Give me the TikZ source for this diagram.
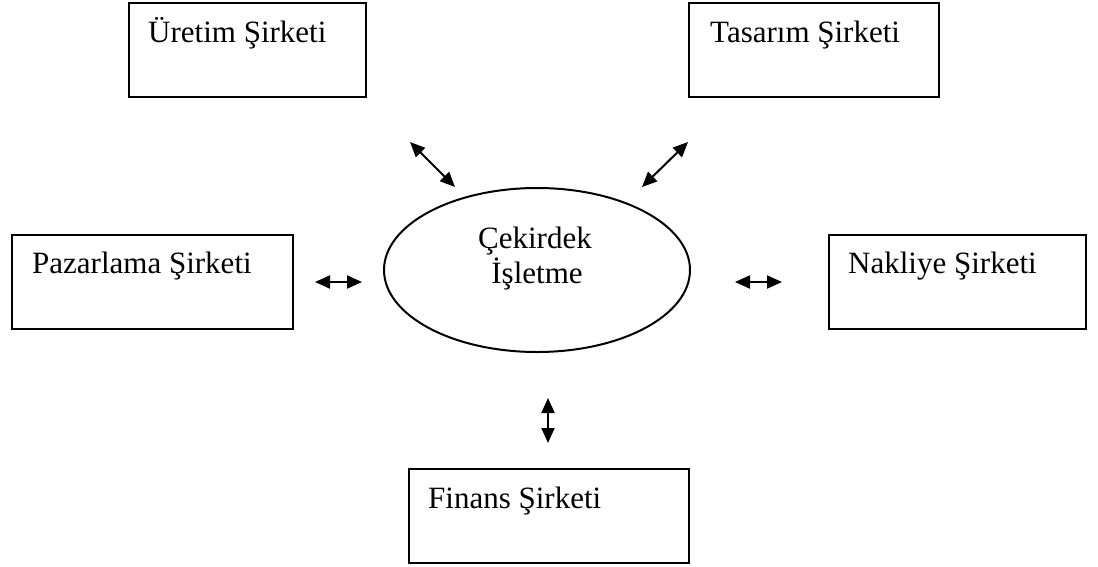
\documentclass[tikz,border=0pt]{standalone}
\usepackage{fontspec}
\setmainfont{Liberation Serif}
\usetikzlibrary{shapes.geometric,arrows.meta}
\begin{document}
\begin{tikzpicture}[x=1pt,y=-1pt,
  box/.style={draw,line width=2pt,inner sep=0pt,anchor=north west},
  lbl/.style={inner sep=0pt,anchor=base west,font=\fontsize{31}{35}\selectfont},
  clbl/.style={inner sep=0pt,anchor=base,font=\fontsize{31}{35}\selectfont},
  link/.style={line width=2pt,{Triangle[length=15pt,width=13pt]}-{Triangle[length=15pt,width=13pt]}}]
\useasboundingbox[fill=white] (0,0) rectangle (1098,566);
% boxes
\node[box,minimum width=237pt,minimum height=94.5pt] (uretim) at (128,1.5) {};
\node[box,minimum width=250pt,minimum height=94.5pt] (tasarim) at (688,1.5) {};
\node[box,minimum width=281pt,minimum height=94pt] (pazar) at (11,234) {};
\node[box,minimum width=257pt,minimum height=94pt] (nakliye) at (828,234) {};
\node[box,minimum width=280pt,minimum height=94pt] (finans) at (408,468) {};
\node[draw,ellipse,line width=2pt,inner sep=0pt,minimum width=306pt,minimum height=164pt] (core) at (537,270) {};
% labels
\node[lbl] (uretimT) at (148,42) {Üretim Şirketi};
\node[lbl] (tasarimT) at (710,42) {Tasarım Şirketi};
\node[lbl] (pazarT) at (32,273) {Pazarlama Şirketi};
\node[lbl] (nakliyeT) at (848,273) {Nakliye Şirketi};
\node[lbl] (finansT) at (428,508) {Finans Şirketi};
\node[clbl] (coreT1) at (535,248) {Çekirdek};
\node[clbl] (coreT2) at (537,283) {İşletme};
% arrow end points
\coordinate (a1) at (410,142); \coordinate (b1) at (455,187);
\coordinate (a2) at (642,187); \coordinate (b2) at (688,142);
\coordinate (a3) at (315,282); \coordinate (b3) at (362,282);
\coordinate (a4) at (735,282); \coordinate (b4) at (782,282);
\coordinate (a5) at (548,398); \coordinate (b5) at (548,443);
\draw[link] (a1) -- (b1);
\draw[link] (a2) -- (b2);
\draw[link] (a3) -- (b3);
\draw[link] (a4) -- (b4);
\draw[link] (a5) -- (b5);
\end{tikzpicture}
\end{document}
